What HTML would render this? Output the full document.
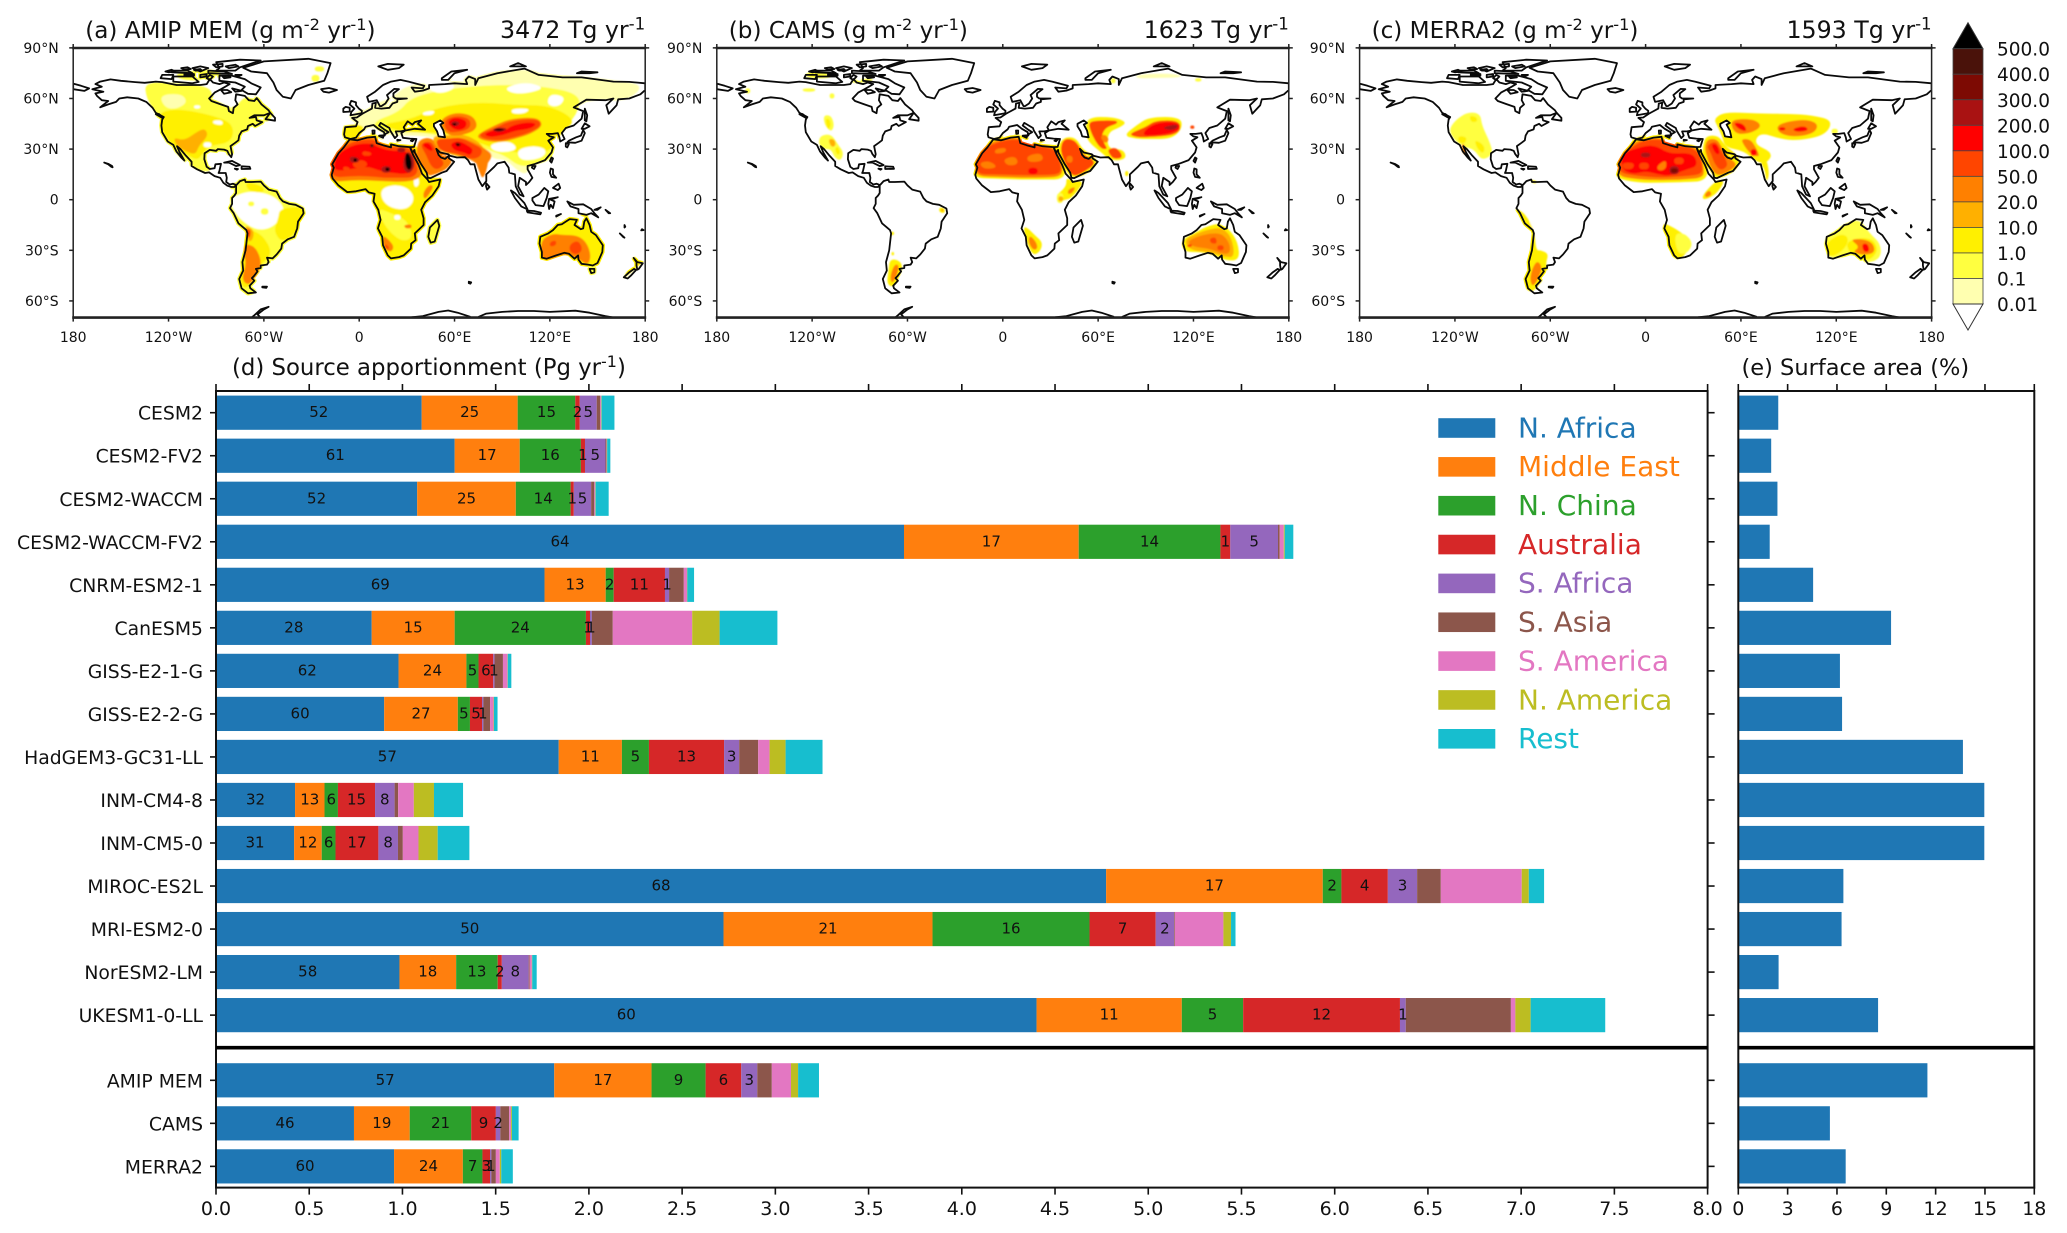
<!DOCTYPE html>
<html lang="en">
<head>
<meta charset="utf-8">
<title>Dust emission maps and source apportionment</title>
<style>
html,body{margin:0;padding:0;background:#fff;}
body{width:2067px;height:1233px;overflow:hidden;}
svg{display:block;}
text{font-family:"DejaVu Sans","Liberation Sans",sans-serif;fill:#111;}
</style>
</head>
<body>
<svg id="figure" xmlns="http://www.w3.org/2000/svg" width="2067" height="1233" viewBox="0 0 2067 1233">
<defs id="defs"><filter id="soft" x="-5%" y="-5%" width="110%" height="110%"><feGaussianBlur stdDeviation="0.9"/></filter></defs>
</svg>
<script>
/* ---------- bar chart data ---------- */
const models = ["CESM2","CESM2-FV2","CESM2-WACCM","CESM2-WACCM-FV2","CNRM-ESM2-1","CanESM5","GISS-E2-1-G","GISS-E2-2-G","HadGEM3-GC31-LL","INM-CM4-8","INM-CM5-0","MIROC-ES2L","MRI-ESM2-0","NorESM2-LM","UKESM1-0-LL","AMIP MEM","CAMS","MERRA2"];
const regions = ["N. Africa","Middle East","N. China","Australia","S. Africa","S. Asia","S. America","N. America","Rest"];
const regionColors = ["#1f77b4","#ff7f0e","#2ca02c","#d62728","#9467bd","#8c564b","#e377c2","#bcbd22","#17becf"];
const nAfrica    = [1.103,1.280,1.079,3.690,1.762,0.835,0.979,0.902,1.838,0.424,0.419,4.774,2.722,0.984,4.401,1.814,0.740,0.955];
const middleEast = [0.515,0.349,0.529,0.937,0.328,0.445,0.364,0.395,0.339,0.158,0.148,1.162,1.121,0.304,0.779,0.522,0.299,0.369];
const nChina     = [0.309,0.328,0.294,0.760,0.043,0.704,0.065,0.065,0.145,0.072,0.074,0.100,0.842,0.223,0.329,0.290,0.330,0.105];
const australia  = [0.024,0.022,0.017,0.053,0.275,0.022,0.079,0.065,0.403,0.199,0.230,0.249,0.355,0.022,0.841,0.191,0.132,0.041];
const sAfrica    = [0.091,0.110,0.093,0.256,0.022,0.010,0.007,0.007,0.081,0.105,0.105,0.157,0.099,0.144,0.031,0.086,0.024,0.007];
const sAsia      = [0.019,0.005,0.017,0.009,0.079,0.112,0.045,0.036,0.102,0.019,0.026,0.127,0.004,0.005,0.564,0.078,0.047,0.024];
const sAmerica   = [0.005,0.002,0.005,0.022,0.017,0.426,0.024,0.019,0.061,0.084,0.084,0.434,0.260,0.012,0.024,0.103,0.010,0.021];
const nAmerica   = [0.002,0.002,0.002,0.005,0.002,0.147,0.002,0.002,0.086,0.108,0.103,0.038,0.041,0.002,0.082,0.038,0.005,0.008];
const restWorld  = [0.069,0.017,0.070,0.046,0.036,0.310,0.019,0.019,0.198,0.156,0.170,0.082,0.024,0.024,0.400,0.112,0.036,0.062];
const printedPercents = [[52,25,15,2,5],[61,17,16,1,5],[52,25,14,1,5],[64,17,14,1,5],[69,13,2,11,1],[28,15,24,1,1],[62,24,5,6,1],[60,27,5,5,1],[57,11,5,13,3],[32,13,6,15,8],[31,12,6,17,8],[68,17,2,4,3],[50,21,16,7,2],[58,18,13,2,8],[60,11,5,12,1],[57,17,9,6,3],[46,19,21,9,2],[60,24,7,3,1]];
const surfaceArea = [2.43,2.00,2.38,1.91,4.55,9.29,6.18,6.31,13.66,14.96,14.96,6.39,6.28,2.45,8.50,11.50,5.57,6.53];
const apportionTicks = [0,0.5,1,1.5,2,2.5,3,3.5,4,4.5,5,5.5,6,6.5,7,7.5,8];
const areaTicks = [0,3,6,9,12,15,18];

/* ---------- map colour scale ---------- */
const levelColors = ["#ffffff","#ffffb0","#ffff40","#fff000","#ffb000","#ff8000","#ff4500","#ff0000","#a91212","#7d0a03","#4a120a","#000000"];
const colorbarLabels = ["500.0","400.0","300.0","200.0","100.0","50.0","20.0","10.0","1.0","0.1","0.01"];
const latTicks = [[90,"90°N"],[60,"60°N"],[30,"30°N"],[0,"0"],[-30,"30°S"],[-60,"60°S"]];
const lonTicks = [[-180,"180"],[-120,"120°W"],[-60,"60°W"],[0,"0"],[60,"60°E"],[120,"120°E"],[180,"180"]];

/* ---------- coastlines (lon, lat pairs) ---------- */
const landOutlines = [
[-168,65.5,-164,66.5,-162,67,-166,68.5,-163,70,-156.5,71.3,-150,70.5,-141,69.7,-135,69.3,-128,70,-124,69.7,-115,68,-108,68,-100,68,-96,68.5,-94,71.5,-92,69.5,-88,68.5,-85,69.5,-81.5,68.5,-87,65.5,-91,63.5,-94.5,60,-93,58.5,-88,56.8,-82.5,55,-82,52.5,-79.5,51.3,-79,54.5,-76.5,56.5,-78,59,-77.5,62.5,-72,61.5,-69.5,59,-66,58.5,-64.5,60.2,-61.5,56.5,-57,53,-56,51.5,-60,50,-66,50,-69,48.5,-65,49,-64.5,47,-61,46,-65.5,43.7,-67,45,-70,43.7,-70.5,41.7,-74,40.5,-75.5,38,-76,35.2,-78,33.8,-81,31.8,-80,27,-80.5,25.2,-82,27,-83,29,-85,29.7,-89,30,-90,29,-94,29.5,-97.3,27.5,-97.5,24,-96,19.5,-94,18.2,-91,18.7,-90.5,21,-87,21.3,-88,17,-88.5,15.8,-84,15.8,-83.3,13,-83.7,10.5,-81.5,9,-79.5,9.5,-77.5,8.7,-78.5,7.5,-80.5,7.5,-83,8.3,-85.5,10,-87.5,13,-91,14,-94.5,16.2,-97,15.8,-102,18,-105.5,20,-105.5,22.5,-109,26,-112.5,30,-114.7,31.7,-113,28,-110,23.2,-112,25,-115,28.5,-117,32.5,-120.5,34.5,-124,40,-124.5,44,-124,47.5,-123,49,-128,51.5,-130,54.5,-134,58,-139,60,-146,60.7,-151,60,-153,58,-158,56.5,-163,54.8,-158,58.5,-162,59,-165,61.5,-166,63,-161,64,-168,65.5],
[-80,73.5,-72,71.5,-68,69,-62,66.5,-65,62.5,-70,62.8,-74,65,-72,67,-78,69.5,-88,70.5,-88,73.5,-80,73.5],
[-117,70,-105,69,-101,69.8,-105,73,-117,73,-117,70],
[-125,72,-118,71.5,-117,74,-124,74,-125,72],
[-90,76.5,-78,76.5,-75,78.5,-62,82.5,-75,83,-90,81.5,-88,78,-90,76.5],
[-95,75,-80,74.5,-85,76,-95,76.5,-95,75],
[-118,75.5,-105,75,-108,76.5,-118,76.5,-118,75.5],
[-100,76,-95,78,-100,79,-105,78,-100,76],
[-96,72,-94,74,-92,73,-94,71,-96,72],
[-86,73,-82,73.5,-81,72.5,-85,72,-86,73],
[-112,78,-108,78.5,-106,77.5,-110,77,-112,78],
[-122,76,-118,77,-116,76,-120,75.5,-122,76],
[-104,77,-100,77.5,-99,76.5,-103,76.5,-104,77],
[-84,79,-78,80,-76,79,-82,78,-84,79],
[-92,80,-86,80.5,-86,79,-90,78.5,-92,80],
[-100,74,-96,74.5,-96,73,-100,72.5,-100,74],
[-78,74,-74,74,-76,73,-78,74],
[-80,66,-76,65,-74,64.5,-78,64,-80,66],
[-110,74.5,-104,74.5,-104,73.5,-110,73.5,-110,74.5],
[-59,47.7,-53,46.8,-53,48.5,-56,51.5,-59,47.7],
[-87,65,-83,65,-80.5,63.7,-85,62.8,-87,65],
[-128,50.7,-124,48.5,-123.5,48.7,-126,50.8,-128,50.7],
[-85,22,-80,23,-75,20.5,-77.5,19.9,-82,22,-85,22],
[-74,19.8,-69,19.5,-68.5,18.3,-74,18.2,-74,19.8],
[-78.3,18.4,-76.3,18.2,-77,17.8,-78.3,18.4],
[-160.5,22,-158,21.3,-155.5,20,-155.2,19.2,-156,19.5,-158,21,-160.5,22],
[-73,78.2,-60,82,-32,83.5,-18,81,-20,75,-22,70.5,-32,68,-40,65,-43,60,-48,61,-52,65,-54,69.5,-58,75,-68,76,-73,78.2],
[-24,65.5,-19,66.2,-14,65,-19,63.5,-22.5,64,-24,65.5],
[-77.5,8.5,-75,11,-72,12,-71.5,10.5,-68,10.5,-62,10.7,-60,8.5,-57,6,-52,4.8,-50,1,-48,-1,-44,-2.5,-40,-3,-35.5,-5.2,-35,-8,-38.5,-13,-39,-17,-41,-22,-45,-23.5,-48.5,-26,-49,-29,-52,-32.5,-54.5,-34.8,-58,-34.3,-57,-37,-58,-38.5,-62,-39,-62,-40.5,-65,-41,-64,-42.5,-66,-45,-67.5,-46.5,-66,-48,-69,-51,-68.5,-52.5,-65,-55,-70,-55.5,-74,-52.5,-75.5,-47,-73,-42,-73.5,-37,-71.5,-30,-70.3,-20,-71,-18,-76,-14,-79,-8,-81.3,-5,-80,-2.5,-80,1,-78.5,2.5,-77.5,4,-77.5,7,-77.5,8.5],
[-61,-51.5,-58,-51.5,-58.5,-52.2,-61,-52,-61,-51.5],
[-6,35.8,-1,35.2,5,36.8,10,37.3,11,33.5,15,32.3,20,31,20,32.8,25,31.7,32,31.2,32.5,29.9,34,26.5,37.2,21,38.5,18,39.5,15.5,43,12,44,10.5,51,12,50,8,46,2.5,41.5,-1.5,39,-6,40.5,-11,40.5,-15,35,-20,35.5,-24,32.7,-26,32.5,-29,28,-33,25,-34,20,-34.8,18,-33,15,-27,14.5,-22,11.8,-17,13.5,-12,12,-6,9,-1,9.7,3.5,6,4.3,4,6.3,-2,5,-7.5,4.5,-13,8.5,-16.7,12.5,-17.3,14.7,-16,19,-17,21,-13,27.5,-9.7,31,-6,35.8],
[49.3,-12,50.4,-15.5,47.5,-24.8,45,-25.5,43.5,-22,44.5,-16.5,49.3,-12],
[-9,37,-9.5,38.7,-8.8,43,-2,43.5,-1,46,-4.5,48.5,-1.5,48.7,2,51,4,52,8,54,8.3,57,10.5,57.5,10,54.5,14,54,19,54.5,21,57,24,58,24,59.5,30,60,23,60,21.5,61,21.5,63,25,65.5,22,65.7,17.5,62,18.5,60,16.5,57,14,55.5,13,55.5,11,59,6,58,5,61,10,64,15,68,20,70,26,71,31,70,41,67.5,40,66,33,66.5,35,64,40,64.7,44,66,44,68,54,68.5,60,69,68,68.5,67,71,69,73,73,71.5,73,68,75,72,81,73.5,87,75,104,77.7,113,74,128,72.5,140,72.5,160,70,170,69.8,180,69,180,65,177,62.5,170,60,163,59.5,162,56,157,51,155.5,56,160,60,155,59,143,59.3,135,54.7,141,52.5,140,48,135,44,130,42.5,127.5,39.5,129.3,36,126.5,34.5,126,37,125,39.5,121.5,39,118,39,120,37.5,122.5,37,119,35,122,31,121,28,117,23.5,110,21,106,20,106,18,109,13,107,10.5,105,8.7,105,10.5,101,13,100,8,103.5,2,101,3,98.5,8,98,15,94.5,16,94,19,91.5,22.5,87,21.5,85,19.5,80,15,80,11,77.5,8,75,12,73,19,72.5,21,70,21,68.5,23.5,66.5,25.2,61.5,25,57,26,56,27,51,28,48.5,30.2,50,26.5,51.5,25,54,24.2,56.3,26,56.5,24.5,59.8,22.5,55,17,52,16,45,12.8,43.2,13,42.5,16,39,21,35,28,34.8,29.5,33.5,28,32.6,29.9,32.3,31.2,34.5,31.3,36,36,32,36.2,27.5,36.7,26.5,39.5,29,41,35,42,41.5,41.5,37,45,39,47,35,46,33.5,44.5,30.5,46.5,28,43,29,41,26,40.5,23,40.5,24,38,22.5,36.5,19.5,41,19,42.5,13.5,45.5,12.5,44,16,41.5,18.5,40,16.5,39,16,38,15.7,40,12,42,9,44.3,4,43.3,3,41.7,0,39.5,-2,36.8,-5.5,36,-9,37],
[-180,68.8,-175,67.5,-170,66,-173,64.5,-180,65.5,-180,68.8],
[-5.5,50,1.5,51.2,1.7,52.7,-0.2,54,-2,56,-2,57.7,-5,58.6,-6,56.5,-3,54,-5,52,-5.5,50],
[-10,52,-6,52.2,-6,54.5,-8.5,55,-10,54,-10,52],
[12.5,38,15.5,38.2,15,36.7,12.5,37.7,12.5,38],
[8.3,41,9.7,41,9.6,39.2,8.5,39,8.3,41],
[24,35.5,26,35.3,24,35,24,35.5],
[32.5,35,34.5,35.6,33.5,34.6,32.5,35],
[52,71,56,71,60,75,68,77,58,76,52,72,52,71],
[12,79,18,77,25,78,28,80,18,80.5,12,79],
[95,79,105,79,100,81,95,79],
[137,75,145,75,150,75.5,140,76,137,75],
[142,54,143.5,50,143,46.5,142,47,142,50,142,54],
[131,34,136,33.7,140,35,142,39.5,141,41.3,139.5,38,136.5,37,132,35,131,34],
[140,42,142,45.3,145,43.5,142,42,140,42],
[130,33.5,132,33,131,31,130,31.5,130,33.5],
[121,25,122,24.5,121,22,120,23,121,25],
[109,20,111,20,110,18.2,108.7,19,109,20],
[120.5,18.5,122,18,122,15,124,13,121,13.5,120,16,120.5,18.5],
[122,7,125.5,9.5,126.5,7,125,5.7,122,7],
[80,9.7,82,7.5,80.5,6,79.8,8,80,9.7],
[95.5,5.5,98,4,104,-2,106,-5.8,102,-4,98,1,95.5,5.5],
[105.5,-6.5,110,-6.7,114.5,-7.7,114,-8.7,106,-7.5,105.5,-6.5],
[109,1,113,3,116.5,7,119,5,118,1,116,-3.8,111,-3.2,109,-0.5,109,1],
[119.5,0.5,125,1.5,120.5,0,123,-1,122,-5,120.5,-3,119.5,-5.5,119,-2.5,119.5,0.5],
[131,-1,135,-3,141,-2.7,146,-5.5,148,-8,150.5,-10.5,146,-8,143,-9,138,-8,138,-5.5,133,-4,131,-1],
[124,-10,127,-8.5,124,-9.5,124,-10],
[148,-6,152,-4.5,150,-6,148,-6],
[155,-6,158,-8,157,-8,155,-6],
[164,-20,167,-22.5,166,-22,164,-20],
[167,-15,167.5,-16,167,-16.5,167,-15],
[178,-17.5,179,-18,177.5,-18.2,178,-17.5],
[114,-22,113.5,-26,115,-31,115,-34.3,118,-35,124,-33,129,-31.5,132,-32,135.5,-35,137.8,-33,138,-35.5,140,-38,144,-38.5,147,-39,150,-37.5,153,-31,153.3,-27,149,-21,146,-19,145,-15,143,-11,141.7,-13,141,-17,139.5,-17.5,135.5,-15,137,-12,132.5,-11.5,130,-13,127.5,-14.5,125,-15,122,-18,119,-20,114,-22],
[145,-41,148,-41,148,-43,146,-43.5,145,-41],
[172.7,-34.5,175,-37,178.5,-37.7,176,-41,175,-41.5,174.5,-39,174.5,-37,172.7,-34.5],
[173,-41,174.3,-41.7,171,-45,169,-46.7,166.5,-46,170,-43,173,-41],
[69,-48.6,70.5,-49,70,-49.8,69,-49.5,69,-48.6]
];
const lakeOutlines = [
[47,45,51,47,53,45.5,51,44.5,53,41,54,37,50,37.5,49,40.5,47,43.5,47,45]
];
const openCoastLines = [
[-74,-70,-68,-70,-66,-68.5,-62,-65,-57,-63.5,-60,-65,-64,-68,-62,-70],
[33,-69.7,40,-69,50,-66.5,56,-65.7,62,-67,70,-69.5],
[75,-69.5,80,-67.5,90,-66.5,100,-66,110,-66,120,-66.5,136,-65.8,145,-67,155,-69,160,-69.8]
];

/* ---------- emission contours: [level, lon, lat, lon, lat, ...] ---------- */
const amipContours = [
[2,-135,70,-113,69,-94,67,-92,60,-79,53,-72,62,-58,60,-52,52,-60,44,-72,38,-76,28,-84,26,-90,26,-94,24,-93,16,-104,18,-114,26,-121,33,-128,42,-127,50,-134,60],
[1,-126,62,-112,63,-108,58,-114,54,-122,54],
[3,-126,52,-113,54,-92,50,-79,45,-80,34,-94,32,-98,28,-102,23,-109,27,-119,33,-126,44],
[0,-104,56,-100,56,-100,54,-104,54],[0,-92,47,-86,47,-86,44,-92,45],[0,-98,34,-93,34,-93,31,-98,31],
[4,-117,37,-110,35,-101,41,-97,42,-95,38,-101,32,-103,26.5,-110,29,-115,32],
[2,-118,75,-90,78,-85,72,-110,70],[2,-28,79,-22,79,-22,76,-28,76],[2,-30,74,-25,74,-25,70,-30,70],
[2,-84,2,-76,14,-62,14,-50,8,-44,0,-32,-5,-35,-16,-40,-25,-48,-31,-52,-37,-60,-38,-62,-44,-66,-58,-78,-56,-76,-36,-74,-22,-80,-12,-84,-4],
[0,-82,0,-74,4,-66,5,-56,3,-50,-1,-47,-6,-50,-12,-56,-17,-64,-18,-72,-14,-78,-8],
[2,-70,-1,-66,-1,-66,-4,-70,-4],[2,-62,-5,-57,-5,-57,-9,-62,-9],[3,-72,11,-60,8,-60,4,-70,5],
[3,-50,-4.9,-33,-4,-36,-16,-48,-26,-54,-19,-51,-11],
[3,-71,-17,-62,-20,-56,-28,-56,-34,-64,-40,-66,-47,-72,-54,-76,-46,-73,-35,-73,-25],
[4,-72,-15,-66,-18,-67,-24,-70,-25,-71,-19],
[5,-72,-26,-65,-28,-61,-38,-65,-46,-70,-51,-74,-47,-71,-38,-73,-31],
[6,-71,-17,-68,-18,-69,-23,-71,-22],
[3,-20,21,-18,29,-12,36,-2,38,10,40,14,35,20,34,36,34,40,22,42,15,46,13,54,13,49,3,44,-2,42,-10,43,-15,38,-20,38,-25,35,-30,28,-37,19,-38,15,-32,12,-24,10,-15,11,-10,8,-2,7,3,3,4.5,-7,2.5,-15,7,-19,11,-20,16],
[2,12,-5,20,-8,30,-12,34,-22,28,-25,20,-20,14,-12],
[0,14,7,24,9,32,6,35,0,30,-6,20,-5,14,0],[0,34,12,37,14,38,9,35,7],[0,22,-9,26,-9,26,-12,22,-12],
[5,-20,21,-17,28,-10,34,-2,37,10,38,13,34,20,32,35,32,38,22,40,16,37,12,28,10.5,15,11,5,11.5,-5,11.5,-16,10.5,-20,15],
[6,-18,21,-15,27,-9,32,-2,35,9,36,13,33,20,31,33,31,36,22,37,16,33,13,25,13,15,13,5,14,-5,14,-15,13,-18,17],
[7,-16,21,-14,26,-9,30,-2,33,8,33.5,12,31,20,29,30,29,33,24,34,18,30,15,20,16,13,17,5,20,-5,18,-15,17],
[6,-5,22,3,24,6,20,-2,18],[6,-10,20,-6,19,-6,17,-10,17],[6,2,29,8,28,7,26,2,26],
[8,29,29,34,27,35,19,31,15,27,19],[8,14,20,20,20,20,16,14,16],[8,-6,26,0,25,0,22,-6,22],[8,24,31,29,31,29,28,24,28],
[11,29,28,32,27,33.5,20,31.5,17,29,20],[11,16.5,19,19,19,19,17,16.5,17],[11,-3.5,24.5,-1.5,24.5,-1.5,22.5,-3.5,22.5],[10,7,33,9,33,9,31,7,31],
[3,40,3,44,9,48,9,46,3,41,-1],[5,40,4,44,9,47,8,44,3,41,0],
[5,15,-21,19,-24,22,-28,20,-31,17,-30,15,-26],[6,16,-26,19,-28,18,-30,16,-28],[5,28,-15,33,-14.5,33,-17,29,-17],[2,42,-10,53,-10,50,-28,41,-28],
[1,-12,35,-12,46,-2,52,10,57,20,60,30,68,50,70,70,74,100,78,130,74,160,71,180,68,168,58,150,60,135,55,135,48,127,42,122,38,120,30,120,24,108,20,105,15,100,17,92,24,85,24,75,30,55,35,40,38,25,38,15,38,10,44,0,38],
[2,8,46,25,52,32,60,50,65,80,68,110,68,140,63,137,50,127,41,124,33,122,24,108,20,100,20,92,26,80,30,60,36,40,40,25,40,12,40],
[3,-11,36,-11,44,-2,45,4,43,-1,35],
[3,15,45,30,47,50,55,75,58,100,56,120,56,137,47,127,40,122,30,110,26,100,28,85,30,70,36,50,40,30,40,20,42],
[0,100,30,110,32,118,30,116,25,105,23,100,25],[0,82,33,95,35,100,30,92,28,84,29],[0,90,66,105,70,118,66,100,62],[0,120,63,130,61,126,55,118,56],[0,40,52,48,53,46,50,40,50],[0,96,54,108,54,104,51,96,51],[0,40,70,55,72,62,66,48,62],
[5,36,30,38,36,46,37,50,30,55,26,59,23,55,18,48,15,43,14,40,19,37,25],
[6,38,33,45,35,48,30,51,25,54,21,49,17.5,45,20,42,27],[7,39,33,44,34,47,29,44,29],
[4,45,38,56,38,66,39,76,34,80,28,84,24,76,20,74,23,60,26,50,29],
[5,48,36,56,36,64,37,72,34,78,31,84,27,82,23,78,18,72,23,62,27,55,28,50,30],
[5,72,26,78,30,82,24,78,11,75,18],
[6,48,36,56,36,64,37,72,33,78,30,76,25,70,24,62,27,55,28,50,30],
[7,57,33,62,35,67,33,72,30,70,26,66,28,60,29],[9,60,33.5,62.5,34,64.5,32.5,62,31],[11,61,33,63,33,63,32,61,32],
[5,50,47,60,52,72,50,75,42,65,38,55,38],[6,53,47,61,50,70,48,70,42,62,40,55,40],[7,55,46,60,49,68,47,67,42,60,41],[8,57,45,60,47,64,45.5,61,43],[11,58.5,45,61,45.5,61,44,59,44],
[5,73,38,85,44,95,48,112,49,116,44,108,39,98,36,88,34,78,35],
[6,75,39,85,42,95,47,112,48,115,44,108,40,98,37,88,35,78,36],
[7,78,39,87,42,92,41,96,44,106,46,112,45,108,42,98,41,90,38,82,37],
[8,83,41.5,88,43,94,42,88,39.5],[11,84,41.5,88,42.2,92,41.5,88,40.6],
[3,110,-20,125,-11,132,-8,138,-12,141,-7,148,-13,157,-25,158,-34,152,-42,142,-42,132,-35,122,-37,111,-37],
[5,114,-24,122,-20,128,-21,137,-21,143,-25,146,-33,144,-39,138,-35,130,-32,122,-35,115,-36],
[6,133,-26,138,-24,141,-30,136,-33,132,-30],[6,120,-25,124,-24,124,-27,120,-28],
[2,143,-39,150,-39,149,-45,144,-45],[3,165,-48,176,-39,181,-35,171,-33,168,-44]
];
const camsContours = [
[2,-113,50,-108,50,-106,44,-108,40,-112,44],[3,-112,48,-109,48,-108,44,-110,41],
[2,-115,38,-108,39,-104,33,-100,28,-102,23,-106,25,-108,30,-113,30,-116,33],
[4,-110,36,-106,36,-105,32,-108,31],[3,-104,32,-102,28,-104,26,-106,30],
[2,-124,76,-108,75,-108,72,-124,72],[3,-122,75,-115,74.5,-115,73,-122,73],[2,-95,71,-82,72,-82,70,-95,69],[2,-126,66,-118,66,-118,64,-126,64],[2,-109,63,-106,63,-106,60,-109,60],[2,-162,66,-159,66,-159,63,-162,63],
[1,84,74,100,75,112,74,112,72.5,95,72,84,72],[2,121,72,125,72,125,70,121,70],[2,68,72,71,72,71,69,68,69],
[3,-40,-4.5,-36.5,-5,-36.5,-8,-40,-7.5],[5,-38.5,-5.5,-37.5,-5.5,-37.5,-7,-38.5,-7],
[3,-70.5,-19,-68.5,-19,-68.5,-21,-70.5,-21],[3,-70,-31,-68.5,-31,-68.5,-33,-70,-33],
[3,-71,-35,-65,-36,-63,-40,-65,-46,-69,-52,-73,-50,-72,-42],[5,-68,-38,-65,-39,-67,-46,-70,-50,-71,-45],
[3,13,-16,16,-17,20,-21,25,-25,24,-30,20,-33,17,-30,14,-22],[5,17,-21,21,-25,22,-29,19,-30,16,-25],
[3,40,13,44,11,51,11,47,5,43,1,40,0,35,-1,34,3,38,6,40,9],[2,34,4,38,4,38,-2,34,-2],[5,41,6,46,8,44,4,41,3],[4,35,2,38,2,38,-1,35,-1],
[3,-20,22,-19,13,-5,12.5,10,12,25,12,37,12,40,17,37,25,36,33,20,35,10,39,0,38,-10,35,-16,29],
[5,-18,22,-17,14,-5,13.5,10,13,25,13,36,13.5,38,18,36,25,34,31,20,33,10,37,0,36.5,-10,33,-15,28],
[6,-17,22,-16,15,-5,15,10,14.5,25,14.5,35,15,37,18,35,25,33,30,20,32,10,36,0,35,-9,32,-14,27],
[5,-15,22,-8,23,-3,19,-12,18],[5,0,24,8,26,10,21,3,20],[5,15,26,24,28,26,23,16,22],[5,-5,30,2,31,2,28,-5,27],[7,16,19,22,19,22,15,16,15],
[3,34,30,38,37,46,37,50,30,57,26,60,22,53,15,45,13,42,14,38,20],
[6,36,29,38,36,44,36,48,32,50,27,56,24.5,58,21,52,17,46,14,43,15,40,20],[5,40,26,44,26,44,22,40,22],
[3,53,49,70,49,78,46,74,43,66,40,66,30,76,30,78,24,68,23,62,28,54,34,52,40],
[6,54,46,60,47,72,47,72,45,65,43,62,38,64,33,66,30,62,30,58,35,55,41],[5,61,37,64,39,67,36,65,33],
[6,66,30,72,31,76,25,70,24,67,27],[3,77,17,79,17,79,14,77,14],
[3,76,38,84,44,92,49,112,49,113,42,106,36,92,36,84,36],
[6,79,39,90,43,96,47,111,47,112,41,106,38,92,37,84,37],
[7,90,42,98,46,110,46,112,42,105,39,94,38,88,38],[8,100,43,110,45,110,42,104,41],[6,118,44,120.5,44,120.5,42,118,42],
[3,112,-24,122,-19,128,-16,136,-14,142,-17,148,-25,149,-36,140,-36,134,-33,125,-31,114,-31],
[4,114,-24,122,-20,130,-17.5,138,-16.5,144,-22,146,-34,140,-34,130,-31,118,-30],
[5,116,-25,122,-22,130,-20,138,-20,143,-26,143,-32,138,-32,130,-29,120,-28],
[6,130,-23,134,-22,135,-26,131,-26],[6,135,-27,139,-27,139,-30,135,-30],[6,116,-27,119,-26,119,-28,116,-28]
];
const merraContours = [
[2,-112,52,-104,51,-103,44,-98,34,-96,27,-103,23,-108,30,-114,31,-120,35,-124,41,-120,47],
[3,-111,50,-106,49,-106,46,-110,46],[3,-108,36,-101,32,-102,27,-106,30],[3,-118,38,-112,37,-114,33,-118,34],[5,-116,33,-114,33,-113,27,-115,27],
[3,-82,-5,-76,-8,-70,-18,-69,-30,-66,-30,-61,-32,-63,-38,-61,-42,-65,-48,-72,-56,-78,-50,-75,-38,-74,-25,-76,-16,-82,-8],
[0,-74,-12,-66,-12,-62,-28,-67,-27,-70,-18],
[5,-68,-36,-65,-40,-67,-46,-71,-52,-73,-47,-71,-40],[3,-73,12,-68,11,-70,9],
[3,10,-14,15,-15,25,-21,29,-27,22,-36,16,-34,12,-25],[2,18,-20,25,-20,30,-26,26,-32,20,-32],
[2,111,-24,122,-16,131,-12,136,-13,141,-20,148,-26,148,-35,138,-38,128,-34,114,-35],
[3,112,-27,122,-20,128,-22,126,-29,116,-35],[3,126,-24,142,-22,147,-30,140,-37,128,-32],
[5,128,-23,142,-24,145,-31,138,-33,130,-31,135,-28],[7,136,-26,140,-26,141,-31,137,-31],
[3,-20,23,-20,13,-5,10,10,10,25,10.5,37,11,40,18,36,31,20,35,10,39,-2,38,-10,35,-17,29],
[5,-18,23,-18,14,-5,12,10,11.5,25,12,36,13,37,18,34,31,20,33,10,37,-2,36,-9,33,-15,27],
[6,-17,23,-17,16,-5,14,10,13,25,14,35,15,36,19,33,30,20,32,10,36,-2,35,-9,31,-15,26],
[7,-15,27,-8,30,5,33,15,27,30,28,33,20,26,18,15,14,8,15,0,17,-8,15,-15,18],
[6,-15,22,-7,22,-8,18,-14,18],[5,7,20,13,24,13,18,8,17],[6,18,25,24,25,24,21,18,21],[6,-4,22,2,22,2,18,-4,18],
[8,15,20,21,20,21,15,15,15],[9,16,18.5,20,18.5,20,16,16,16],[8,-3,28,3,28,3,25,-3,25],
[3,36,32,38,38,46,38,50,32,56,28,60,22,54,15,44,12,40,18,36,26],
[5,37,31,39,36,45,36,48,31,52,25,58,21,53,17,46,14,42,17,39,24],
[6,38,32,44,35,47,30,50,25,52,20,47,17,43,22,41,28],[7,41,33,45,33,47,27,44,27],
[3,43,48,50,52,70,51,90,51,105,50,118,47,113,38,95,35,85,36,72,40,68,33,80,28,77,22,70,22,62,29,50,31,48,38,45,44],
[5,53,47,62,48,70,47,73,43,65,39,56,39],[5,83,45,100,48,109,45,106,39,92,37,83,40],[5,60,36,66,36,70,30,72,25,66,27,62,32],
[7,55,46,62,45,64,40,58,42],[7,92,42,100,44,103,41,95,40],[7,84,43,88,43,88,41,84,41],[7,66,30,70,30,70,26,66,26],
[2,117,42,121,42,121,39,117,39],[3,76,25,78,15,76,10,75,18,72,22],
[3,36,3,45,12,50,11,45,4,40,1,36,0],[5,37,3,40,6,42,3,38,1]
];

/* ---------- helpers ---------- */
const NS = "http://www.w3.org/2000/svg";
const root = document.getElementById("figure");
function make(tag, attrs, parent, text) {
  const el = document.createElementNS(NS, tag);
  for (const k in attrs) el.setAttribute(k, attrs[k]);
  if (text !== undefined) el.textContent = text;
  (parent || root).appendChild(el);
  return el;
}
function smoothClosed(pts) {
  const n = pts.length;
  const mid = (a, b) => [(a[0] + b[0]) / 2, (a[1] + b[1]) / 2];
  let m = mid(pts[n - 1], pts[0]);
  let d = "M" + m[0].toFixed(1) + " " + m[1].toFixed(1);
  for (let i = 0; i < n; i++) {
    m = mid(pts[i], pts[(i + 1) % n]);
    d += "Q" + pts[i][0].toFixed(1) + " " + pts[i][1].toFixed(1) + " " + m[0].toFixed(1) + " " + m[1].toFixed(1);
  }
  return d + "Z";
}
function polyPath(flat, project, closed) {
  let d = "";
  for (let i = 0; i < flat.length; i += 2) {
    const p = project(flat[i], flat[i + 1]);
    d += (i ? "L" : "M") + p[0].toFixed(1) + " " + p[1].toFixed(1);
  }
  return d + (closed ? "Z" : "");
}
function supTitle(x, y, anchor, parts, size, name) {
  const t = make("text", {x: x, y: y, "text-anchor": anchor, "font-size": size}, root);
  
  
  let raised = false;
  parts.forEach(function (p) {
    const isSup = p.charAt(0) === "^";
    const s = make("tspan", {}, t, isSup ? p.slice(1) : p);
    if (isSup) { s.setAttribute("font-size", size * 0.7); s.setAttribute("dy", -size * 0.35); raised = true; }
    else if (raised) { s.setAttribute("dy", size * 0.35); raised = false; }
  });
  return t;
}

/* ---------- maps ---------- */
const defs = document.getElementById("defs");
const mapTop = 48, mapBottom = 317.6, mapWidth = 572, equatorY = 199.7, latScale = 1.687;
function drawMap(id, left, contours, titleParts, totalParts, panelName) {
  const lonX = lon => left + (lon + 180) * mapWidth / 360;
  const latY = lat => equatorY - lat * latScale;
  const project = (lon, lat) => [lonX(lon), latY(lat)];
  const g = make("g", {}, root);
  
  

  const mask = make("mask", {id: "land-" + id, maskUnits: "userSpaceOnUse", x: 0, y: 0, width: 2067, height: 1233}, defs);
  make("rect", {x: 0, y: 0, width: 2067, height: 1233, fill: "#000"}, mask);
  landOutlines.forEach(function (o) {
    make("path", {d: polyPath(o, project, true), fill: "#fff", stroke: "#fff", "stroke-width": 4.5, "stroke-linejoin": "round"}, mask);
  });
  lakeOutlines.forEach(function (o) {
    make("path", {d: polyPath(o, project, true), fill: "#000"}, mask);
  });
  const clip = make("clipPath", {id: "frame-" + id}, defs);
  make("rect", {x: left, y: mapTop, width: mapWidth, height: mapBottom - mapTop}, clip);

  const maskLayer = make("g", {mask: "url(#land-" + id + ")", "clip-path": "url(#frame-" + id + ")"}, g);
  const fillLayer = make("g", {filter: "url(#soft)"}, maskLayer);
  
  
  contours.forEach(function (c) {
    const pts = [];
    for (let i = 1; i < c.length; i += 2) pts.push(project(c[i], c[i + 1]));
    const p = make("path", {d: smoothClosed(pts), fill: levelColors[c[0]]}, fillLayer);
    
    
  });

  const coast = make("g", {fill: "none", stroke: "#0a0a0a", "stroke-width": 1.8, "stroke-linejoin": "round", "clip-path": "url(#frame-" + id + ")"}, g);
  
  
  landOutlines.concat(lakeOutlines).forEach(function (o) {
    make("path", {d: polyPath(o, project, true)}, coast);
  });
  openCoastLines.forEach(function (o) {
    make("path", {d: polyPath(o, project, false)}, coast);
  });

  const frame = make("g", {stroke: "#222", "stroke-width": 1.5}, g);
  
  
  make("rect", {x: left, y: mapTop, width: mapWidth, height: mapBottom - mapTop, fill: "none"}, frame);
  make("line", {x1: left - 1, x2: left + mapWidth + 1, y1: mapTop, y2: mapTop, "stroke-width": 2.6}, frame);
  make("line", {x1: left - 1, x2: left + mapWidth + 1, y1: mapBottom, y2: mapBottom, "stroke-width": 2.6}, frame);
  lonTicks.forEach(function (t) {
    const x = lonX(t[0]);
    make("line", {x1: x, x2: x, y1: mapTop, y2: mapTop - 4}, frame);
    make("line", {x1: x, x2: x, y1: mapBottom, y2: mapBottom + 4}, frame);
    const lab = make("text", {x: x, y: 342, "text-anchor": "middle", "font-size": 14}, g, t[1]);
    
    
  });
  latTicks.forEach(function (t) {
    const y = latY(t[0]);
    make("line", {x1: left, x2: left - 4, y1: y, y2: y}, frame);
    make("line", {x1: left + mapWidth, x2: left + mapWidth + 4, y1: y, y2: y}, frame);
    const lab = make("text", {x: left - 14.5, y: y + 5, "text-anchor": "end", "font-size": 14}, g, t[1]);
    
    
  });
  supTitle(left + 12, 38, "start", titleParts, 23.1, "map-title");
  supTitle(left + mapWidth, 38, "end", totalParts, 23.7, "map-total");
}
drawMap("a", 73.2, amipContours, ["(a) AMIP MEM (g m", "^-2", " yr", "^-1", ")"], ["3472 Tg yr", "^-1"], "amip-mem-map");
drawMap("b", 716.8, camsContours, ["(b) CAMS (g m", "^-2", " yr", "^-1", ")"], ["1623 Tg yr", "^-1"], "cams-map");
drawMap("c", 1359.6, merraContours, ["(c) MERRA2 (g m", "^-2", " yr", "^-1", ")"], ["1593 Tg yr", "^-1"], "merra2-map");

/* ---------- colour bar ---------- */
const cb = make("g", {}, root);


const cbLeft = 1953, cbRight = 1983, cbTop = 48.7, cbStep = 25.53;
const cbTri = make("path", {d: "M" + cbLeft + " " + cbTop + "L" + (cbLeft + cbRight) / 2 + " 22.7L" + cbRight + " " + cbTop + "Z", fill: levelColors[11], stroke: "#333", "stroke-width": 1}, cb);


colorbarLabels.forEach(function (lab, i) {
  const y = cbTop + i * cbStep;
  if (i < colorbarLabels.length - 1) {
    const seg = make("rect", {x: cbLeft, y: y, width: cbRight - cbLeft, height: cbStep, fill: levelColors[10 - i], stroke: "#444", "stroke-width": 0.8}, cb);
    
    
  }
  const t = make("text", {x: 1997, y: y + 7, "font-size": 18.5}, cb, lab);
  
  
});
const cbBottomY = cbTop + (colorbarLabels.length - 1) * cbStep;
const cbTri2 = make("path", {d: "M" + cbLeft + " " + cbBottomY + "L" + (cbLeft + cbRight) / 2 + " 330L" + cbRight + " " + cbBottomY + "Z", fill: levelColors[0], stroke: "#333", "stroke-width": 1}, cb);



/* ---------- bar panels ---------- */
const barTop = 391, barBottom = 1187.6, sepY = 1047.7;
const dLeft = 216, dRight = 1707.6, eLeft = 1738.3, eRight = 2034.3;
const xD = v => dLeft + v / 8 * (dRight - dLeft);
const xE = v => eLeft + v / 18 * (eRight - eLeft);
const rowY = i => 412.7 + (i < 15 ? i : i + 0.515) * 43.03;
const barH = 34.2;
const series = [nAfrica, middleEast, nChina, australia, sAfrica, sAsia, sAmerica, nAmerica, restWorld];

const pd = make("g", {}, root);


const pe = make("g", {}, root);



models.forEach(function (name, i) {
  const y = rowY(i);
  let cum = 0;
  series.forEach(function (s, k) {
    const x0 = xD(cum), x1 = xD(cum + s[i]);
    const r = make("rect", {x: x0, y: y - barH / 2, width: Math.max(x1 - x0, 0.3), height: barH, fill: regionColors[k]}, pd);
    
    
    cum += s[i];
  });
  cum = 0;
  printedPercents[i].forEach(function (pct, k) {
    const v = series[k][i];
    const t = make("text", {x: xD(cum + v / 2), y: y + 4.5, "text-anchor": "middle", "font-size": 15}, pd, pct);
    
    
    cum += v;
  });
  const tick = make("line", {x1: dLeft, x2: dLeft - 6, y1: y, y2: y, stroke: "#111", "stroke-width": 1.6}, pd);
  
  
  const tick2 = make("line", {x1: dRight, x2: dRight + 7, y1: y, y2: y, stroke: "#111", "stroke-width": 1.6}, pd);
  
  
  const lab = make("text", {x: 203, y: y + 7, "text-anchor": "end", "font-size": 18.8}, pd, name);
  
  
  const a = make("rect", {x: eLeft, y: y - barH / 2, width: xE(surfaceArea[i]) - eLeft, height: barH, fill: regionColors[0]}, pe);
  
  
});

function drawAxes(group, left, right, ticks, scale, fmt) {
  const frame = make("rect", {x: left, y: barTop, width: right - left, height: barBottom - barTop, fill: "none", stroke: "#111", "stroke-width": 2}, group);
  
  
  const sep = make("line", {x1: left, x2: right, y1: sepY, y2: sepY, stroke: "#000", "stroke-width": 3.6}, group);
  
  
  ticks.forEach(function (v) {
    const x = scale(v);
    const b = make("line", {x1: x, x2: x, y1: barBottom, y2: barBottom + 7, stroke: "#111", "stroke-width": 1.6}, group);
    
    
    const tp = make("line", {x1: x, x2: x, y1: barTop, y2: barTop - 7, stroke: "#111", "stroke-width": 1.6}, group);
    
    
    const t = make("text", {x: x, y: 1215, "text-anchor": "middle", "font-size": 19}, group, fmt(v));
    
    
  });
}
drawAxes(pd, dLeft, dRight, apportionTicks, xD, v => v.toFixed(1));
drawAxes(pe, eLeft, eRight, areaTicks, xE, v => String(v));
supTitle(232, 375, "start", ["(d) Source apportionment (Pg yr", "^-1", ")"], 22.8, "apportionment-title");
supTitle(1741.5, 375, "start", ["(e) Surface area (%)"], 22.5, "surface-area-title");

/* ---------- legend ---------- */
const legend = make("g", {}, root);


regions.forEach(function (name, k) {
  const cy = 428 + k * 38.85;
  const sw = make("rect", {x: 1438.3, y: cy - 9.8, width: 57, height: 19.6, fill: regionColors[k]}, legend);
  
  
  const t = make("text", {x: 1518, y: cy + 9.3, "font-size": 28, style: "fill:" + regionColors[k]}, legend, name);
  
  
});
</script>
</body>
</html>
